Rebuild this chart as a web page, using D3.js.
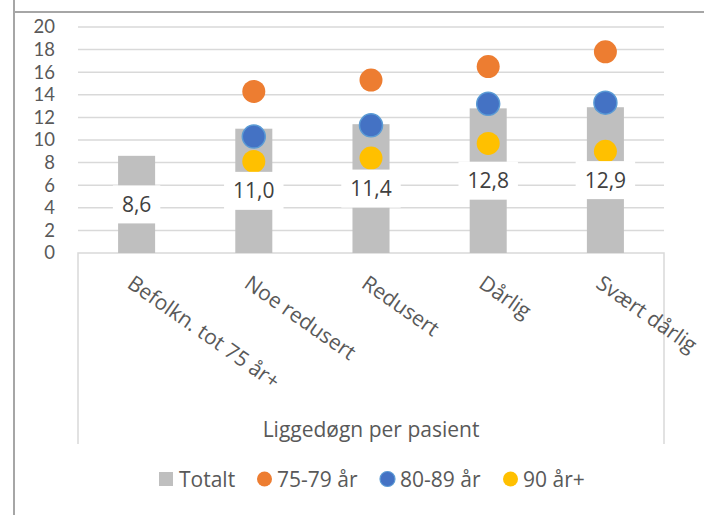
<!DOCTYPE html>
<html>
<head>
<meta charset="utf-8">
<script src="https://cdn.jsdelivr.net/npm/d3@7"></script>
<style>
  body { margin: 0; background: #fff; }
  svg { display: block; font-family: "Open Sans", Lato, sans-serif; }
</style>
</head>
<body>
<div id="chart"></div>
<script>
//Datos
const categories = ['Befolkn. tot 75 år+', 'Noe redusert', 'Redusert', 'Dårlig', 'Svært dårlig'];
const totalt = [8.6, 11.0, 11.4, 12.8, 12.9];
const age75_79 = [null, 14.3, 15.3, 16.5, 17.8];
const age80_89 = [null, 10.3, 11.3, 13.2, 13.3];
const age90 = [null, 8.1, 8.4, 9.7, 9.0];
const yTicks = [0, 2, 4, 6, 8, 10, 12, 14, 16, 18, 20];
const legendLabels = ['Totalt', '75-79 år', '80-89 år', '90 år+'];
const axisTitle = 'Liggedøgn per pasient';

//Colores fijos
const COLOR_BAR = '#BFBFBF',
    COLOR_ORANGE = '#ED7D31',
    COLOR_BLUE = '#4472C4',
    COLOR_BLUE_LINE = '#5B9BD5',
    COLOR_YELLOW = '#FFC000',
    COLOR_GRID = '#D9D9D9',
    COLOR_TEXT = '#595959',
    COLOR_FRAME = '#A6A6A6';

const FONT = '"Open Sans", sans-serif', FONT_SIZE = '21px';

const W = 704, H = 515;
const plotLeft = 78, plotRight = 664, plotTop = 27, plotBottom = 253;

let svg = d3.select('#chart').append('svg')
    .attr('width', W)
    .attr('height', H);

//Marco
svg.append('line').attr('x1', 14).attr('x2', 14).attr('y1', 0).attr('y2', H)
    .attr('stroke', COLOR_FRAME).attr('stroke-width', 2);
svg.append('line').attr('x1', 14).attr('x2', W).attr('y1', 12).attr('y2', 12)
    .attr('stroke', COLOR_FRAME).attr('stroke-width', 2);

//Escalas
let x = d3.scaleBand()
    .domain(categories)
    .range([plotLeft, plotRight])
    .padding(0);

let y = d3.scaleLinear()
    .domain([0, 20])
    .range([plotBottom, plotTop]);

let barW = x.bandwidth() * 0.316;
let cx = function(c) { return x(c) + x.bandwidth() / 2; };

//Rejilla
svg.append('g')
    .selectAll('line')
    .data(yTicks.filter(function(d) { return d > 0; }))
    .enter()
    .append('line')
    .attr('x1', plotLeft).attr('x2', plotRight)
    .attr('y1', function(d) { return y(d); })
    .attr('y2', function(d) { return y(d); })
    .attr('stroke', COLOR_GRID)
    .attr('stroke-width', 1.5);

//Eje Y
let yAxis = svg.append('g')
    .attr('transform', 'translate(55,0)')
    .call(d3.axisLeft(y).tickValues(yTicks).tickSize(0).tickPadding(0));
yAxis.select('.domain').remove();
yAxis.selectAll('text')
    .attr('fill', COLOR_TEXT)
    .style('font-size', '18.5px')
    .style('font-family', 'Lato, sans-serif');

//Caja del eje X
svg.append('path')
    .attr('d', 'M' + plotLeft + ',444V' + plotBottom + 'H' + plotRight + 'V444')
    .attr('fill', 'none')
    .attr('stroke', COLOR_GRID)
    .attr('stroke-width', 1.5);

//Barras
svg.append('g')
    .selectAll('rect')
    .data(categories)
    .enter()
    .append('rect')
    .attr('x', function(d) { return cx(d) - barW / 2; })
    .attr('width', barW)
    .attr('y', function(d, i) { return y(totalt[i]); })
    .attr('height', function(d, i) { return y(0) - y(totalt[i]); })
    .attr('fill', COLOR_BAR);

//Puntos
let series = [
    { values: age75_79, fill: COLOR_ORANGE, stroke: 'none' },
    { values: age80_89, fill: COLOR_BLUE, stroke: COLOR_BLUE_LINE },
    { values: age90, fill: COLOR_YELLOW, stroke: 'none' }
];

series.forEach(function(s) {
    svg.append('g')
        .selectAll('circle')
        .data(categories.filter(function(d, i) { return s.values[i] != null; }))
        .enter()
        .append('circle')
        .attr('cx', function(d) { return cx(d); })
        .attr('cy', function(d) { return y(s.values[categories.indexOf(d)]); })
        .attr('r', 11.5)
        .attr('fill', s.fill)
        .attr('stroke', s.stroke)
        .attr('stroke-width', 1.5);
});

//Etiquetas de datos
let labels = svg.append('g')
    .selectAll('g')
    .data(categories)
    .enter()
    .append('g')
    .attr('transform', function(d, i) { return 'translate(' + cx(d) + ',' + y(totalt[i] / 2) + ')'; });

labels.append('rect').attr('fill', '#fff');
labels.append('text')
    .attr('text-anchor', 'middle')
    .attr('dy', '0.36em')
    .attr('fill', '#404040')
    .style('font-size', FONT_SIZE)
    .text(function(d, i) { return d3.format('.1f')(totalt[i]).replace('.', ','); });

labels.each(function() {
    let g = d3.select(this);
    let bb = g.select('text').node().getBBox();
    g.select('rect')
        .attr('x', -bb.width / 2 - 9)
        .attr('y', -19)
        .attr('width', bb.width + 18)
        .attr('height', 38);
});

//Etiquetas del eje X
svg.append('g')
    .selectAll('text')
    .data(categories)
    .enter()
    .append('text')
    .attr('transform', function(d) { return 'translate(' + (cx(d) - 2) + ',274) rotate(35)'; })
    .attr('dy', '0.72em')
    .attr('text-anchor', 'start')
    .attr('fill', COLOR_TEXT)
    .style('font-size', FONT_SIZE)
    .text(function(d) { return d; });

//Título del eje
svg.append('text')
    .attr('x', (plotLeft + plotRight) / 2)
    .attr('y', 437)
    .attr('text-anchor', 'middle')
    .attr('fill', COLOR_TEXT)
    .style('font-size', FONT_SIZE)
    .text(axisTitle);

//Leyenda
let legendX = [159, 257, 380, 503];
let legend = svg.append('g');
legendLabels.forEach(function(l, i) {
    let g = legend.append('g').attr('transform', 'translate(' + legendX[i] + ',479)');
    if (i === 0) {
        g.append('rect').attr('x', 0).attr('y', -7).attr('width', 14).attr('height', 14).attr('fill', COLOR_BAR);
    } else {
        g.append('circle').attr('cx', 7.5).attr('cy', 0).attr('r', 7.5)
            .attr('fill', series[i - 1].fill)
            .attr('stroke', series[i - 1].stroke)
            .attr('stroke-width', 1.2);
    }
    g.append('text')
        .attr('x', 20)
        .attr('dy', '0.36em')
        .attr('fill', COLOR_TEXT)
        .style('font-size', FONT_SIZE)
        .text(l);
});
</script>
</body>
</html>
